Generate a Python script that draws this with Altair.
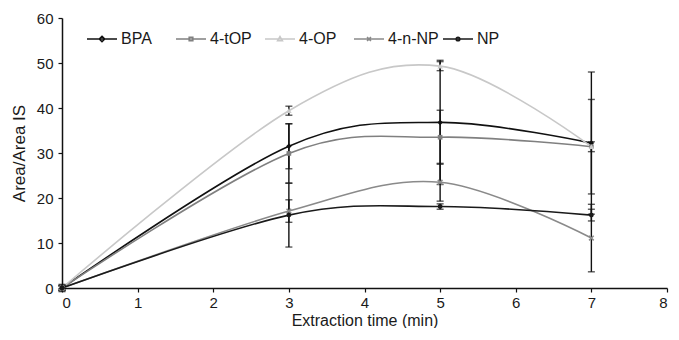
import altair as alt
import pandas as pd

# ---- data ----
times = [0, 3, 5, 7]
series_names = ["BPA", "4-tOP", "4-OP", "4-n-NP", "NP"]
bpa = [0.0, 31.5, 36.8, 32.2]
bpa_err = [0.6, 5.0, 13.8, 15.8]
top = [0.0, 29.9, 33.5, 31.4]
top_err = [0.5, 6.6, 6.0, 10.5]
op = [0.0, 39.4, 49.3, 31.4]
op_err = [0.4, 1.0, 1.0, 1.1]
nnp = [0.0, 17.1, 23.5, 11.1]
nnp_err = [0.5, 2.5, 4.2, 7.5]
np_vals = [0.0, 16.2, 18.1, 16.2]
np_err = [0.8, 7.1, 0.6, 1.3]
x_ticks = [0, 1, 2, 3, 4, 5, 6, 7, 8]
y_ticks = [0, 10, 20, 30, 40, 50, 60]

# ---- styles ----
colors = ["#111111", "#808080", "#c8c8c8", "#8a8a8a", "#1a1a1a"]
marker_shapes = ["diamond", "square", "triangle-up",
                 "M-1,-1L1,1M-1,1L1,-1", "circle"]
marker_filled = [True, True, True, False, True]
marker_sizes = [30, 22, 30, 22, 24]
legend_paths = [
    "M-1,0H1M0,-0.18L0.18,0L0,0.18L-0.18,0Z",
    "M-1,0H1M-0.12,-0.12H0.12V0.12H-0.12Z",
    "M-1,0H1M0,-0.16L0.16,0.12H-0.16Z",
    "M-1,0H1M-0.13,-0.13L0.13,0.13M-0.13,0.13L0.13,-0.13",
    "M-1,0H1M-0.12,0A0.12,0.12 0 1 0 0.12,0A0.12,0.12 0 1 0 -0.12,0Z",
]

vals = [bpa, top, op, nnp, np_vals]
errs = [bpa_err, top_err, op_err, nnp_err, np_err]
rows = []
for s, v, e in zip(series_names, vals, errs):
    for t, yv, ev in zip(times, v, e):
        rows.append({"series": s, "time": t, "value": yv,
                     "lo": yv - ev, "hi": yv + ev})
df = pd.DataFrame(rows)

FONT = "Liberation Sans"
x_enc = alt.X("time:Q", scale=alt.Scale(domain=[0, 8], nice=False),
              axis=alt.Axis(values=x_ticks, format="d", title="Extraction time (min)"))
y_enc = alt.Y("value:Q", scale=alt.Scale(domain=[0, 60], nice=False),
              axis=alt.Axis(values=y_ticks, format="d", title="Area/Area IS",
                            titleFontSize=17))
color_scale = alt.Scale(domain=series_names, range=colors)

base = alt.Chart(df)

line_layers = []
for s, c in zip(series_names, colors):
    line_layers.append(
        base.transform_filter(alt.datum.series == s).mark_line(
            interpolate="cardinal", strokeWidth=1.6, color=c).encode(
            x=x_enc, y=y_enc))

err_rule = base.mark_rule(color="#111111", strokeWidth=1.4).encode(
    x="time:Q", y="lo:Q", y2="hi:Q")
cap_lo = base.mark_tick(color="#111111", orient="horizontal", size=7,
                        thickness=1.4).encode(x="time:Q", y="lo:Q")
cap_hi = base.mark_tick(color="#111111", orient="horizontal", size=7,
                        thickness=1.4).encode(x="time:Q", y="hi:Q")

marker_layers = []
for s, c, shp, f, sz in zip(series_names, colors, marker_shapes,
                            marker_filled, marker_sizes):
    marker_layers.append(
        base.transform_filter(alt.datum.series == s).mark_point(
            shape=shp, filled=f, color=c, size=sz, opacity=1,
            strokeWidth=1.5).encode(x="time:Q", y="value:Q"))

leg = alt.Legend(title=None, orient="none", legendX=24, legendY=5,
                 direction="horizontal", columns=5, gridAlign="all",
                 symbolSize=900, symbolStrokeWidth=1.6, symbolOpacity=1,
                 labelFontSize=16, labelFont=FONT, labelColor="#1a1a1a",
                 labelOffset=3, columnPadding=0, padding=0)
legend_layer = base.mark_point(filled=False, size=0).encode(
    x="time:Q", y="value:Q",
    color=alt.Color("series:N", scale=color_scale, legend=leg),
    shape=alt.Shape("series:N", scale=alt.Scale(domain=series_names, range=legend_paths), legend=leg),
)

chart = alt.layer(*line_layers, err_rule, cap_lo, cap_hi, *marker_layers, legend_layer).properties(
    width=605, height=270,
    autosize=alt.AutoSizeParams(type="none"),
    padding={"left": 54, "top": 10, "right": 4, "bottom": 40},
).configure_view(stroke=None).configure_axis(
    grid=False, labelFont=FONT, titleFont=FONT, labelFontSize=15,
    titleFontSize=16, titleFontWeight="normal", labelColor="#1a1a1a",
    titleColor="#1a1a1a", domainColor="#111111", tickColor="#111111",
    domainWidth=1.5, tickWidth=1.2, tickSize=4,
).configure_axisY(titlePadding=8, labelPadding=5).configure_axisX(
    titlePadding=2, labelPadding=3)

chart.save("out.html", embed_options={"renderer": "svg", "actions": False})
